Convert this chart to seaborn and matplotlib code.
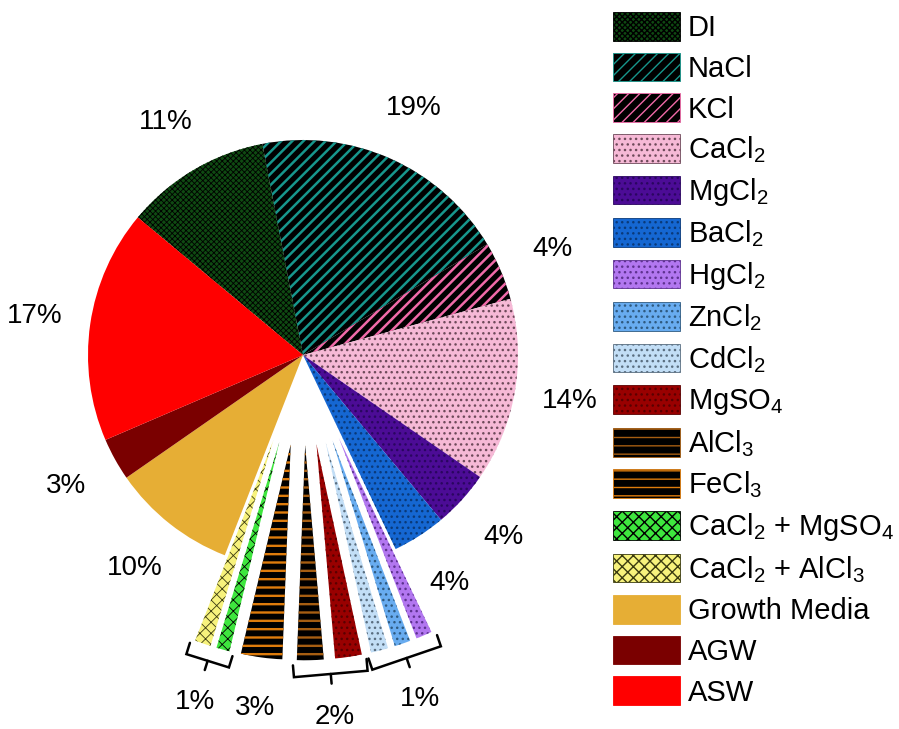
import matplotlib
matplotlib.use("Agg")
import matplotlib.pyplot as plt
import numpy as np
import seaborn as sns
from matplotlib.patches import Patch


# wedge order = legend order, drawn clockwise from DI
names = [
    "DI", "NaCl", "KCl", "CaCl$_2$", "MgCl$_2$", "BaCl$_2$", "HgCl$_2$",
    "ZnCl$_2$", "CdCl$_2$", "MgSO$_4$", "AlCl$_3$", "FeCl$_3$",
    "CaCl$_2$ + MgSO$_4$", "CaCl$_2$ + AlCl$_3$", "Growth Media", "AGW", "ASW",
]
shares = [10.9, 19.4, 4.4, 13.8, 4.3, 4.0, 1.2, 1.2, 1.3, 2.0, 2.0, 3.1,
          1.0, 1.2, 9.4, 3.2, 17.5]
pct_labels = ["11%", "19%", "4%", "14%", "4%", "4%", "", "", "", "", "", "",
              "", "", "10%", "3%", "17%"]

# small wedges pulled out of the pie, labelled per group
small_groups = [
    (["CaCl$_2$ + AlCl$_3$", "CaCl$_2$ + MgSO$_4$"], "1%"),
    (["FeCl$_3$"], "3%"),
    (["AlCl$_3$", "MgSO$_4$"], "2%"),
    (["CdCl$_2$", "ZnCl$_2$", "HgCl$_2$"], "1%"),
]

face_colors = [
    "#0f4a12", "#000000", "#000000", "#f6b9d6", "#4c0c96", "#1567d2",
    "#b277f0", "#68acf0", "#c2def6", "#990000", "#000000", "#000000",
    "#3ee63e", "#f7f27c", "#e6ae35", "#7a0000", "#ff0000",
]
hatch_colors = [
    "#000000", "#17968c", "#f06aa8", "#6e4a5a", "#2a0660", "#0a3a7a",
    "#5e3290", "#2f5a80", "#5a6e80", "#5a0000", "#a65e12", "#de7c0c",
    "#000000", "#3a3a10", "#e6ae35", "#7a0000", "#ff0000",
]
hatches = ["xxxxxx", "///", "///", "...", "...", "...", "...", "...", "...",
           "...", "--", "--", "xxx", "xxx", "", "", ""]
hatch_widths = [0.6, 1.8, 1.8, 1.0, 1.0, 1.0, 1.0, 1.0, 1.0, 1.0,
                1.7, 1.7, 0.6, 0.6, 0.5, 0.5, 0.5]

EXPLODE = 0.42
LABEL_FONT = 20


def style_patch(patch, i, edge_lw=0.0, edge_color=None):
    patch.set_facecolor(face_colors[i])
    patch.set_linewidth(edge_lw)
    if edge_color is not None and hasattr(patch, "set_hatchcolor"):
        patch.set_edgecolor(edge_color)
        patch.set_hatchcolor(hatch_colors[i])
    else:
        patch.set_edgecolor(hatch_colors[i])
    patch.set_hatch(hatches[i] or None)
    if hasattr(patch, "set_hatch_linewidth"):
        patch.set_hatch_linewidth(hatch_widths[i])


sns.set_theme(style="white")
plt.rcParams["font.family"] = ["Liberation Sans", "DejaVu Sans"]
plt.rcParams["mathtext.default"] = "regular"
plt.rcParams["text.color"] = "black"
plt.rcParams["hatch.linewidth"] = 1.0

fig = plt.figure(figsize=(8.99, 7.29), dpi=100)
ax = fig.add_axes([0, 0, 606 / 899, 1])

small_names = {n for grp, _ in small_groups for n in grp}
explode = [EXPLODE if n in small_names else 0.0 for n in names]

wedges, _ = ax.pie(
    shares,
    explode=explode,
    startangle=140.2,
    counterclock=False,
    radius=1.0,
    wedgeprops=dict(linewidth=0),
)
for i, w in enumerate(wedges):
    style_patch(w, i)

# percentage labels of the large wedges
for w, txt in zip(wedges, pct_labels):
    if not txt:
        continue
    mid = np.deg2rad((w.theta1 + w.theta2) / 2)
    ax.text(1.26 * np.cos(mid), 1.26 * np.sin(mid), txt,
            ha="center", va="center", fontsize=LABEL_FONT, color="black")

# brackets + labels for the exploded small wedges
for members, txt in small_groups:
    ws = [wedges[names.index(n)] for n in members]
    lo = min(w.theta1 for w in ws)
    hi = max(w.theta2 for w in ws)
    mid = np.deg2rad((lo + hi) / 2)
    u = np.array([np.cos(mid), np.sin(mid)])
    v = np.array([-np.sin(mid), np.cos(mid)])
    corners = []
    for w in ws:
        c = np.array(w.center)
        for th in (w.theta1, w.theta2):
            a = np.deg2rad(th)
            corners.append(c + w.r * np.array([np.cos(a), np.sin(a)]))
    corners = np.array(corners)
    t = corners @ v
    s = corners @ u
    base = s.max() + 0.07
    if len(members) > 1:
        t1, t2 = t.min() - 0.02, t.max() + 0.02
        tm = (t1 + t2) / 2
        path = np.array([t1 * v + (base - 0.055) * u, t1 * v + base * u,
                         t2 * v + base * u, t2 * v + (base - 0.055) * u])
        ax.plot(path[:, 0], path[:, 1], color="black", lw=1.8,
                solid_joinstyle="miter")
        tick = np.array([tm * v + base * u, tm * v + (base + 0.045) * u])
        ax.plot(tick[:, 0], tick[:, 1], color="black", lw=1.8)
        lpos = tm * v + (base + 0.2) * u
    else:
        lpos = ((t.min() + t.max()) / 2) * v + (s.max() + 0.24) * u
    ax.text(lpos[0], lpos[1], txt, ha="center", va="center",
            fontsize=LABEL_FONT, color="black")

ax.set_xlim(-303 / 215, 303 / 215)
ax.set_ylim(-374 / 215, 355 / 215)
ax.axis("off")

handles = []
for i, n in enumerate(names):
    p = Patch(label=n)
    style_patch(p, i, edge_lw=0.6, edge_color="#9a9a9a")
    handles.append(p)

fig.legend(
    handles=handles,
    loc="upper left",
    bbox_to_anchor=(613 / 899, 1 - 12 / 729),
    frameon=False,
    fontsize=21,
    handlelength=2.3,
    handleheight=1.13,
    handletextpad=0.27,
    labelspacing=0.36,
    borderpad=0,
    borderaxespad=0,
    labelcolor="black",
)

fig.savefig("out.png", dpi=100)
